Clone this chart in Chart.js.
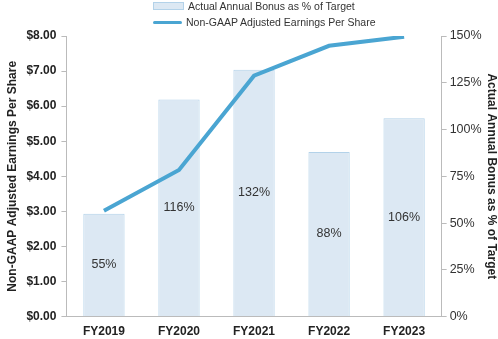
<!DOCTYPE html>
<html>
<head>
<meta charset="utf-8">
<script src="https://cdn.jsdelivr.net/npm/chart.js@4/dist/chart.umd.min.js"></script>
<style>
  html, body { margin: 0; padding: 0; background: #fff; }
  #wrap { position: relative; width: 498px; height: 339px; }
  #legend { position: absolute; left: 153px; top: -2px; font: 10.5px "Liberation Sans", Arial, sans-serif; color: #333; }
  .row { display: flex; align-items: center; height: 16px; }
  .swatch { width: 29px; margin-right: 4px; }
  .bar-sw { height: 6px; background: #dce8f3; border: 1px solid #b3d2e9; }
  .line-sw { height: 3px; background: #4aa5d2; border-radius: 2px; }
</style>
</head>
<body>
<div id="wrap">
  <canvas id="chart" width="498" height="339"></canvas>
  <div id="legend"></div>
</div>
<script>
const categories = ['FY2019', 'FY2020', 'FY2021', 'FY2022', 'FY2023'];
const bonusPct = [55, 116, 132, 88, 106];
const epsValues = [3.02, 4.18, 6.87, 7.72, 7.98];
const bonusLabel = 'Actual Annual Bonus as % of Target';
const epsLabel = 'Non-GAAP Adjusted Earnings Per Share';

const FONT = '"Liberation Sans", Arial, sans-serif';

// 막대 안쪽 값 표시
const barValueLabels = {
    id: 'barValueLabels',
    afterDatasetsDraw(chart) {
        const ctx = chart.ctx;
        const meta = chart.getDatasetMeta(0);
        ctx.save();
        ctx.font = '12.5px ' + FONT;
        ctx.fillStyle = '#333';
        ctx.textAlign = 'center';
        ctx.textBaseline = 'middle';
        meta.data.forEach((bar, i) => {
            const mid = (bar.y + bar.base) / 2;
            ctx.fillText(bonusPct[i] + '%', bar.x, mid);
        });
        ctx.restore();
    }
};

document.getElementById('legend').innerHTML = `
    <div class="row"><div class="swatch bar-sw"></div>${bonusLabel}</div>
    <div class="row"><div class="swatch line-sw"></div>${epsLabel}</div>
`;

new Chart(document.getElementById('chart'), {
    data: {
        labels: categories,
        datasets: [
            {
                type: 'bar',
                label: bonusLabel,
                data: bonusPct,
                yAxisID: 'y1',
                backgroundColor: '#dce8f3',
                borderColor: '#b3d2e9',
                borderWidth: 1,
                barPercentage: 0.55,
                categoryPercentage: 1,
                order: 1
            },
            {
                type: 'line',
                label: epsLabel,
                data: epsValues,
                yAxisID: 'y',
                borderColor: '#4aa5d2',
                borderWidth: 4,
                pointRadius: 0,
                tension: 0,
                order: 0
            }
        ]
    },
    options: {
        responsive: false,
        animation: false,
        layout: { padding: { top: 36, left: 5, right: -1, bottom: 0 } },
        plugins: {
            legend: { display: false },
            tooltip: { enabled: false }
        },
        scales: {
            x: {
                offset: true,
                grid: { display: false },
                border: { color: '#bbb' },
                ticks: { color: '#222', font: { family: FONT, size: 12, weight: 'bold' }, padding: 0 }
            },
            y: {
                position: 'left',
                min: 0,
                max: 8,
                ticks: {
                    stepSize: 1,
                    color: '#222',
                    font: { family: FONT, size: 12, weight: 'bold' },
                    padding: 5,
                    callback: v => '$' + v.toFixed(2)
                },
                grid: { drawOnChartArea: false, tickLength: 5, color: '#bbb' },
                border: { color: '#bbb' },
                title: {
                    display: true,
                    text: epsLabel,
                    color: '#222',
                    font: { family: FONT, size: 12, weight: 'bold' },
                    padding: { top: 0, bottom: 2 }
                }
            },
            y1: {
                position: 'right',
                min: 0,
                max: 150,
                ticks: {
                    stepSize: 25,
                    color: '#333',
                    font: { family: FONT, size: 12.5 },
                    padding: 3,
                    callback: v => v + '%'
                },
                grid: { drawOnChartArea: false, tickLength: 5, color: '#bbb' },
                border: { color: '#bbb' },
                title: {
                    display: true,
                    text: 'Actual Annual Bonus as % of Target',
                    color: '#222',
                    font: { family: FONT, size: 12, weight: 'bold' },
                    padding: 0
                }
            }
        }
    },
    plugins: [barValueLabels]
});
</script>
</body>
</html>
